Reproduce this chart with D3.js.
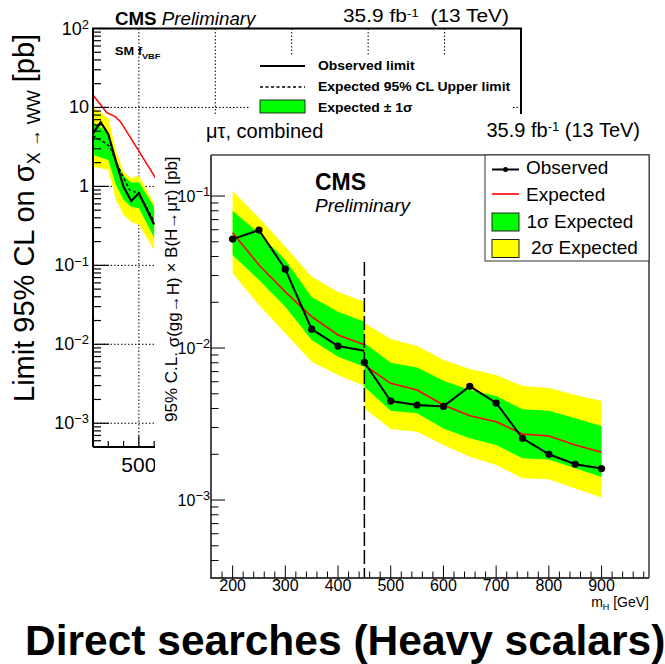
<!DOCTYPE html>
<html>
<head>
<meta charset="utf-8">
<script src="https://cdn.jsdelivr.net/npm/d3@7"></script>
<style>
  body { margin: 0; background: #fff; }
  svg { display: block; font-family: "Liberation Sans", Arial, Helvetica, sans-serif; }
</style>
</head>
<body>
<svg id="chart" width="665" height="664"></svg>
<script>
// front plot: mu-tau limits, low and high mass analyses split at 450 GeV
const massLow = [200, 250, 300, 350, 400, 450]
const obsLow = [0.0521, 0.0597, 0.0330, 0.0133, 0.0103, 0.0096]
const expLow = [0.0574, 0.0352, 0.0234, 0.0161, 0.0122, 0.0105]
const up1Low = [0.080, 0.0569, 0.0379, 0.0217, 0.0173, 0.0149]
const dn1Low = [0.0409, 0.028, 0.0187, 0.0113, 0.00877, 0.00753]
const up2Low = [0.108, 0.072, 0.0464, 0.0294, 0.0234, 0.0202]
const dn2Low = [0.031, 0.0192, 0.0125, 0.00813, 0.00664, 0.00562]

const massHigh = [450, 500, 550, 600, 650, 700, 750, 800, 850, 900]
const obsHigh = [0.00805, 0.00448, 0.00422, 0.00413, 0.0056, 0.00435, 0.00255, 0.0020, 0.00172, 0.00161]
const expHigh = [0.00773, 0.00586, 0.00529, 0.00422, 0.00359, 0.00327, 0.00272, 0.00264, 0.0023, 0.00206]
const up1High = [0.01079, 0.0080, 0.00746, 0.00609, 0.00529, 0.00483, 0.00395, 0.00387, 0.00345, 0.00307]
const dn1High = [0.00556, 0.00387, 0.00372, 0.00296, 0.00255, 0.0023, 0.00188, 0.00185, 0.00162, 0.00142]
const up2High = [0.01461, 0.01146, 0.01031, 0.00834, 0.00727, 0.00665, 0.00562, 0.00546, 0.00491, 0.00448]
const dn2High = [0.00401, 0.00293, 0.00281, 0.0023, 0.00193, 0.0017, 0.00139, 0.00137, 0.00119, 0.00104]

const splitMass = 450
const frontXTicks = [200, 300, 400, 500, 600, 700, 800, 900]
const frontYDecades = [1e-3, 1e-2, 1e-1]

// back plot: X -> WW limits (mostly hidden behind the front plot)
const wwBandMass = [200, 300, 350, 400, 450, 500, 600]
const wwUp2 = [10.15, 7.36, 2.90, 1.53, 1.28, 1.36, 0.61]
const wwUp1 = [6.55, 4.76, 2.16, 1.36, 1.11, 1.14, 0.55]
const wwDn1 = [2.50, 2.16, 1.04, 0.675, 0.55, 0.534, 0.223]
const wwDn2 = [1.77, 1.62, 0.675, 0.436, 0.355, 0.326, 0.157]
const wwObsMass = [200, 250, 300, 350, 400, 450, 500, 600]
const wwObs = [4.71, 6.5, 4.58, 2.06, 0.99, 0.655, 0.82, 0.33]
const wwExpMass = [200, 280, 310, 365, 440, 500, 600]
const wwExp = [4.4, 3.55, 3.19, 1.78, 0.90, 0.82, 0.36]
const wwRefMass = [200, 290, 345, 380, 620]
const wwRef = [14.4, 8.6, 7.65, 6.61, 1.18]

const backXGrid = [500, 1000, 1500, 2000, 2500]
const backXLabels = [500]
const backYDecades = [1e-3, 1e-2, 1e-1, 1, 10, 100]

// the pasted back figure is a little stretched sideways
const stretchB = 1.16

let svg = d3.select('#chart')

function addPower(text, base, exp, ratio) {
    text.append('tspan').text(base)
    if (exp !== null) {
        text.append('tspan').attr('dy', '-0.45em').attr('font-size', (ratio || 0.72) + 'em').text(exp)
    }
}

function expOf(v) {
    return Math.round(Math.log10(v))
}

function isDecade(v) {
    return Math.abs(Math.log10(v) - expOf(v)) < 1e-9
}

// ---------------- back plot ----------------
let xB = d3.scaleLinear().domain([200, 3000]).range([93, 521])
let yB = d3.scaleLog().domain([5e-4, 100]).range([447, 28.5])

let gB = svg.append('g')

svg.append('clipPath').attr('id', 'clipB')
    .append('rect')
    .attr('x', xB.range()[0]).attr('y', yB.range()[1])
    .attr('width', xB.range()[1] - xB.range()[0])
    .attr('height', yB.range()[0] - yB.range()[1])

gB.selectAll('line.hgrid')
    .data(backYDecades.slice(0, 5))
    .join('line')
    .attr('class', 'hgrid')
    .attr('x1', xB.range()[0]).attr('x2', xB.range()[1])
    .attr('y1', d => yB(d)).attr('y2', d => yB(d))
    .attr('stroke', '#000').attr('stroke-width', 1).attr('stroke-dasharray', '1.5,2')

gB.selectAll('line.vgrid')
    .data(backXGrid)
    .join('line')
    .attr('class', 'vgrid')
    .attr('x1', d => xB(d)).attr('x2', d => xB(d))
    .attr('y1', yB.range()[1]).attr('y2', yB.range()[0])
    .attr('stroke', '#000').attr('stroke-width', 1).attr('stroke-dasharray', '1.5,2')

let curvesB = gB.append('g').attr('clip-path', 'url(#clipB)')

let bandB = d3.area()
    .x(d => xB(d[0]))
    .y0(d => yB(d[1]))
    .y1(d => yB(d[2]))

let lineB = d3.line()
    .x(d => xB(d[0]))
    .y(d => yB(d[1]))

curvesB.append('path')
    .datum(wwBandMass.map((m, i) => [m, wwDn2[i], wwUp2[i]]))
    .attr('d', bandB).attr('fill', '#ffff00')
curvesB.append('path')
    .datum(wwBandMass.map((m, i) => [m, wwDn1[i], wwUp1[i]]))
    .attr('d', bandB).attr('fill', '#00ff00')
curvesB.append('path')
    .datum(wwExpMass.map((m, i) => [m, wwExp[i]]))
    .attr('d', lineB).attr('fill', 'none')
    .attr('stroke', '#000').attr('stroke-width', 1.5).attr('stroke-dasharray', '3,2.5')
curvesB.append('path')
    .datum(wwRefMass.map((m, i) => [m, wwRef[i]]))
    .attr('d', lineB).attr('fill', 'none')
    .attr('stroke', '#ff0000').attr('stroke-width', 1.5)
curvesB.append('path')
    .datum(wwObsMass.map((m, i) => [m, wwObs[i]]))
    .attr('d', lineB).attr('fill', 'none')
    .attr('stroke', '#000').attr('stroke-width', 2.2)

// back axes
gB.selectAll('line.ytickB')
    .data(yB.ticks())
    .join('line')
    .attr('class', 'ytickB')
    .attr('x1', xB.range()[0])
    .attr('x2', d => xB.range()[0] + (isDecade(d) ? 16 : 8))
    .attr('y1', d => yB(d)).attr('y2', d => yB(d))
    .attr('stroke', '#000').attr('stroke-width', 1.2)

gB.selectAll('line.xtickB')
    .data(d3.range(300, 3000, 100))
    .join('line')
    .attr('class', 'xtickB')
    .attr('x1', d => xB(d)).attr('x2', d => xB(d))
    .attr('y1', yB.range()[0])
    .attr('y2', d => yB.range()[0] - (d % 500 === 0 ? 11 : 6))
    .attr('stroke', '#000').attr('stroke-width', 1.2)

gB.append('path')
    .attr('d', `M${xB.range()[0]},${yB.range()[0]}V${yB.range()[1]}H${xB.range()[1]}V${yB.range()[0]}H${xB.range()[0]}`)
    .attr('fill', 'none').attr('stroke', '#000').attr('stroke-width', 2)

backYDecades.forEach(d => {
    let e = expOf(d)
    let t = gB.append('text')
        .attr('x', 89).attr('y', yB(d) + 6)
        .attr('text-anchor', 'end').attr('font-size', 18)
    if (e === 0) addPower(t, '1', null)
    else if (e === 1) addPower(t, '10', null)
    else addPower(t, '10', e > 0 ? String(e) : '\u2212' + (-e))
})

gB.selectAll('text.xlabB')
    .data(backXLabels)
    .join('text')
    .attr('class', 'xlabB')
    .attr('x', d => xB(d)).attr('y', 472)
    .attr('text-anchor', 'middle').attr('font-size', 21)
    .text(d => d)

// back legend
gB.append('rect').attr('x', 250).attr('y', 55).attr('width', 262).attr('height', 60).attr('fill', '#fff')
gB.append('line').attr('x1', 260).attr('x2', 305).attr('y1', 66).attr('y2', 66)
    .attr('stroke', '#000').attr('stroke-width', 2.2)
gB.append('line').attr('x1', 260).attr('x2', 305).attr('y1', 87).attr('y2', 87)
    .attr('stroke', '#000').attr('stroke-width', 1.5).attr('stroke-dasharray', '3,2.5')
gB.append('rect').attr('x', 260).attr('y', 100).attr('width', 45).attr('height', 13)
    .attr('fill', '#00ff00').attr('stroke', '#000').attr('stroke-width', 0.8)
let legB = ['Observed limit', 'Expected 95% CL Upper limit', 'Expected \u00b1 1\u03c3']
gB.selectAll('text.legB')
    .data(legB)
    .join('text')
    .attr('class', 'legB')
    .attr('transform', (d, i) => `translate(318,${70 + i * 21}) scale(${stretchB},1)`)
    .attr('font-size', 12).attr('font-weight', 'bold')
    .text(d => d)

let smT = gB.append('text')
    .attr('transform', `translate(115,55) scale(${stretchB},1)`)
    .attr('font-size', 11).attr('font-weight', 'bold')
smT.append('tspan').text('SM f')
smT.append('tspan').attr('dy', 4).attr('font-size', 8).text('VBF')

let cmsB = gB.append('text')
    .attr('transform', `translate(115,25) scale(1.04,1)`)
    .attr('font-size', 18)
cmsB.append('tspan').attr('font-weight', 'bold').text('CMS ')
cmsB.append('tspan').attr('font-style', 'italic').text('Preliminary')

let lumiB = gB.append('text')
    .attr('transform', `translate(343,22) scale(${stretchB},1)`)
    .attr('font-size', 18)
lumiB.append('tspan').text('35.9 fb')
lumiB.append('tspan').attr('dy', '-0.45em').attr('font-size', '0.65em').text('-1')
lumiB.append('tspan').attr('dy', '0.3em').text('\u00a0 (13 TeV)')

let ytB = gB.append('text')
    .attr('transform', 'translate(34,402) rotate(-90)')
    .attr('font-size', 29)
ytB.append('tspan').text('Limit 95% CL on \u03c3')
ytB.append('tspan').attr('dy', 6).attr('font-size', 18).text('X \u2192 WW')
ytB.append('tspan').attr('dy', -6).text(' [pb]')

// ---------------- front plot ----------------
svg.append('rect').attr('x', 155).attr('y', 114).attr('width', 510).attr('height', 550).attr('fill', '#fff')

let xF = d3.scaleLinear().domain([159, 990]).range([211, 649])
let yF = d3.scaleLog().domain([3.07e-4, 0.1862]).range([578, 155])

let gF = svg.append('g')

svg.append('clipPath').attr('id', 'clipF')
    .append('rect')
    .attr('x', xF.range()[0]).attr('y', yF.range()[1])
    .attr('width', xF.range()[1] - xF.range()[0])
    .attr('height', yF.range()[0] - yF.range()[1])

let curvesF = gF.append('g').attr('clip-path', 'url(#clipF)')

let bandF = d3.area()
    .x(d => xF(d[0]))
    .y0(d => yF(d[1]))
    .y1(d => yF(d[2]))

let lineF = d3.line()
    .x(d => xF(d[0]))
    .y(d => yF(d[1]))

let ranges = [
    {mass: massLow, obs: obsLow, exp: expLow, up1: up1Low, dn1: dn1Low, up2: up2Low, dn2: dn2Low},
    {mass: massHigh, obs: obsHigh, exp: expHigh, up1: up1High, dn1: dn1High, up2: up2High, dn2: dn2High}
]

ranges.forEach(r => {
    curvesF.append('path')
        .datum(r.mass.map((m, i) => [m, r.dn2[i], r.up2[i]]))
        .attr('d', bandF).attr('fill', '#ffff00')
    curvesF.append('path')
        .datum(r.mass.map((m, i) => [m, r.dn1[i], r.up1[i]]))
        .attr('d', bandF).attr('fill', '#00ff00')
})

ranges.forEach(r => {
    curvesF.append('path')
        .datum(r.mass.map((m, i) => [m, r.exp[i]]))
        .attr('d', lineF).attr('fill', 'none')
        .attr('stroke', '#ff0000').attr('stroke-width', 1.6)
})

ranges.forEach((r, k) => {
    let pts = r.mass.map((m, i) => [m, r.obs[i]])
    curvesF.append('path')
        .datum(pts)
        .attr('d', lineF).attr('fill', 'none')
        .attr('stroke', '#000').attr('stroke-width', 2)
    // the low range ends on the boundary without its own marker
    let marked = k === 0 ? pts.slice(0, -1) : pts
    curvesF.selectAll('circle.m' + k)
        .data(marked)
        .join('circle')
        .attr('class', 'm' + k)
        .attr('cx', d => xF(d[0])).attr('cy', d => yF(d[1]))
        .attr('r', 3.6).attr('fill', '#000')
})

gF.append('line')
    .attr('x1', xF(splitMass)).attr('x2', xF(splitMass))
    .attr('y1', 262).attr('y2', yF.range()[0])
    .attr('stroke', '#000').attr('stroke-width', 1.5).attr('stroke-dasharray', '14,4')

// front axes
gF.selectAll('line.ytickF')
    .data(yF.ticks())
    .join('line')
    .attr('class', 'ytickF')
    .attr('x1', xF.range()[0])
    .attr('x2', d => xF.range()[0] + (isDecade(d) ? 14 : 7.5))
    .attr('y1', d => yF(d)).attr('y2', d => yF(d))
    .attr('stroke', '#000').attr('stroke-width', 1)

gF.selectAll('line.xtickF')
    .data(d3.range(180, 990, 20))
    .join('line')
    .attr('class', 'xtickF')
    .attr('x1', d => xF(d)).attr('x2', d => xF(d))
    .attr('y1', yF.range()[0])
    .attr('y2', d => yF.range()[0] - (d % 100 === 0 ? 12.5 : 6.5))
    .attr('stroke', '#000').attr('stroke-width', 1)

gF.append('path')
    .attr('d', `M${xF.range()[0]},${yF.range()[1]}V${yF.range()[0]}H${xF.range()[1]}`)
    .attr('fill', 'none').attr('stroke', '#000').attr('stroke-width', 1.4)
gF.append('path')
    .attr('d', `M${xF.range()[0]},${yF.range()[1]}H${xF.range()[1]}V${yF.range()[0]}`)
    .attr('fill', 'none').attr('stroke', '#444').attr('stroke-width', 1.6)

frontYDecades.forEach(d => {
    let t = gF.append('text')
        .attr('x', 210).attr('y', yF(d) + 6)
        .attr('text-anchor', 'end').attr('font-size', 16)
    addPower(t, '10', '\u2212' + (-expOf(d)), 0.8)
})

gF.selectAll('text.xlabF')
    .data(frontXTicks)
    .join('text')
    .attr('class', 'xlabF')
    .attr('x', d => xF(d)).attr('y', 591)
    .attr('text-anchor', 'middle').attr('font-size', 16)
    .text(d => d)

let xtF = gF.append('text').attr('x', 649).attr('y', 607).attr('text-anchor', 'end').attr('font-size', 14)
xtF.append('tspan').text('m')
xtF.append('tspan').attr('dy', 3).attr('font-size', 9).text('H')
xtF.append('tspan').attr('dy', -3).text(' [GeV]')

let ytF = gF.append('text')
    .attr('transform', 'translate(177,422) rotate(-90)')
    .attr('font-size', 17)
ytF.append('tspan').text('95% C.L. ')
ytF.append('tspan').attr('dy', 2).text('\u03c3(gg\u2192H)')
ytF.append('tspan').attr('dy', -2).text(' \u00d7 B(H\u2192\u03bc\u03c4) [pb]')

gF.append('text').attr('x', 206).attr('y', 138).attr('font-size', 20).text('\u03bc\u03c4, combined')

let lumiF = gF.append('text').attr('x', 640).attr('y', 137).attr('text-anchor', 'end').attr('font-size', 20)
lumiF.append('tspan').text('35.9 fb')
lumiF.append('tspan').attr('dy', '-0.45em').attr('font-size', '0.65em').text('-1')
lumiF.append('tspan').attr('dy', '0.3em').text(' (13 TeV)')

gF.append('text').attr('x', 315).attr('y', 190).attr('font-size', 23).attr('font-weight', 'bold').text('CMS')
gF.append('text').attr('x', 315).attr('y', 211.5).attr('font-size', 19).attr('font-style', 'italic').text('Preliminary')

// front legend
gF.append('rect').attr('x', 485).attr('y', 155).attr('width', 164).attr('height', 106)
    .attr('fill', '#fff').attr('stroke', '#333').attr('stroke-width', 1)
gF.append('line').attr('x1', 492).attr('x2', 519).attr('y1', 169.5).attr('y2', 169.5)
    .attr('stroke', '#000').attr('stroke-width', 2)
gF.append('circle').attr('cx', 505.5).attr('cy', 169.5).attr('r', 2.5).attr('fill', '#000')
gF.append('line').attr('x1', 492).attr('x2', 519).attr('y1', 194).attr('y2', 194)
    .attr('stroke', '#ff0000').attr('stroke-width', 1.6)
gF.append('rect').attr('x', 492).attr('y', 213).attr('width', 27).attr('height', 18)
    .attr('fill', '#00ff00').attr('stroke', '#222').attr('stroke-width', 1)
gF.append('rect').attr('x', 492).attr('y', 239.5).attr('width', 27).attr('height', 18)
    .attr('fill', '#ffff00').attr('stroke', '#222').attr('stroke-width', 1)
let legF = [
    {label: 'Observed', x: 526, y: 174},
    {label: 'Expected', x: 526, y: 200.5},
    {label: '1\u03c3 Expected', x: 526.5, y: 227.5},
    {label: '2\u03c3 Expected', x: 531, y: 254}
]
gF.selectAll('text.legF')
    .data(legF)
    .join('text')
    .attr('class', 'legF')
    .attr('x', d => d.x).attr('y', d => d.y)
    .attr('font-size', 19)
    .text(d => d.label)

// slide title
svg.append('text')
    .attr('x', 25).attr('y', 655)
    .attr('font-size', 42.5).attr('font-weight', 'bold')
    .text('Direct searches (Heavy scalars)')
</script>
</body>
</html>
